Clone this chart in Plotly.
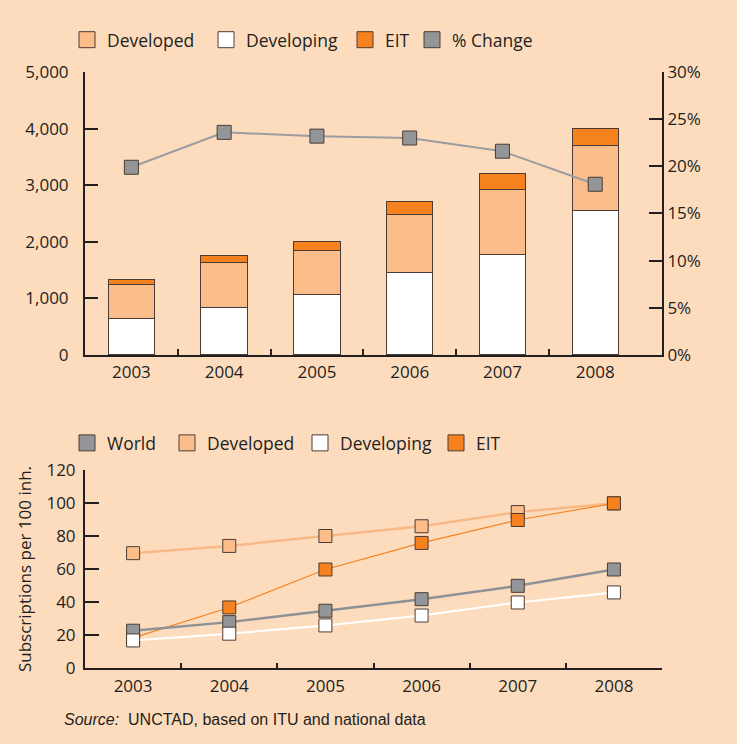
import plotly.graph_objects as go

# ---- data -------------------------------------------------------------
years = ["2003", "2004", "2005", "2006", "2007", "2008"]

# Mobile subscriptions (millions), stacked by group
subs_developing = [645, 847, 1076, 1457, 1781, 2557]
subs_developed = [600, 793, 776, 1017, 1140, 1152]
subs_eit = [90, 117, 152, 235, 289, 300]
pct_change = [0.199, 0.236, 0.232, 0.230, 0.216, 0.181]

# Penetration (subscriptions per 100 inhabitants)
pen_world = [22.6, 27.8, 34.7, 41.7, 49.8, 59.7]
pen_developed = [69.6, 74.0, 80.0, 85.9, 94.5, 99.8]
pen_developing = [16.7, 20.8, 25.8, 31.8, 39.7, 45.8]
pen_eit = [18.3, 36.7, 59.7, 75.8, 89.7, 99.8]

left_ticks = [0, 1000, 2000, 3000, 4000, 5000]
right_ticks = [0, 0.05, 0.10, 0.15, 0.20, 0.25, 0.30]
pen_ticks = [0, 20, 40, 60, 80, 100, 120]

top_legend_items = ["Developed", "Developing", "EIT", "% Change"]
bottom_legend_items = ["World", "Developed", "Developing", "EIT"]

# ---- style ------------------------------------------------------------
BG = "#FDDCBE"
DEVELOPED = "#FBBE8A"
EIT = "#F5821F"
GRAY = "#939598"
DARK = "#231F20"
EDGE = "#4A3C34"
FONT = "Open Sans"
swatch_color = {"Developed": DEVELOPED, "Developing": "white", "EIT": EIT,
                "% Change": GRAY, "World": GRAY}

fig = go.Figure()

# stacked bars
for vals, col in [(subs_developing, "white"), (subs_developed, DEVELOPED), (subs_eit, EIT)]:
    fig.add_trace(go.Bar(x=years, y=vals, width=0.5, showlegend=False, xaxis="x", yaxis="y",
                         marker=dict(color=col, line=dict(color=EDGE, width=1))))

# growth rate on the right-hand axis
fig.add_trace(go.Scatter(x=years, y=pct_change, mode="lines+markers",
                         line=dict(color="#9A9CA0", width=2),
                         marker=dict(symbol="square", size=14, color=GRAY, line=dict(color=EDGE, width=1)),
                         showlegend=False, xaxis="x", yaxis="y2"))

# penetration lines
def pen_line(vals, lc, lw, mc):
    return go.Scatter(x=years, y=vals, mode="lines+markers",
                      line=dict(color=lc, width=lw),
                      marker=dict(symbol="square", size=13, color=mc, line=dict(color=EDGE, width=1)),
                      showlegend=False, xaxis="x2", yaxis="y3")

fig.add_trace(pen_line(pen_developed, "#F9B987", 2.5, DEVELOPED))
fig.add_trace(pen_line(pen_eit, EIT, 1.2, EIT))
fig.add_trace(pen_line(pen_world, "#8E9196", 2.5, GRAY))
fig.add_trace(pen_line(pen_developing, "white", 2, "white"))

# legend swatches: one small legend per entry so each can be placed freely
legend_font = dict(family=FONT, size=17.5, color=DARK)
legend_layouts = {}
top_centers = [91, 230, 369, 436]
bottom_centers = [91, 191, 324, 460]
PLOT_L, PLOT_W = 85, 577

def add_swatches(items, centers, ypos, xa, ya, start):
    for i, (nm, cx) in enumerate(zip(items, centers)):
        lid = "legend" if start + i == 1 else f"legend{start + i}"
        fig.add_trace(go.Scatter(x=[None], y=[None], mode="markers", name=nm, legend=lid,
                                 marker=dict(symbol="square", size=16, color=swatch_color[nm],
                                             line=dict(color=EDGE, width=1)),
                                 xaxis=xa, yaxis=ya))
        legend_layouts[lid] = dict(orientation="h", x=(cx - 24 - PLOT_L) / PLOT_W, xanchor="left",
                                   y=ypos, yanchor="middle", bgcolor="rgba(0,0,0,0)",
                                   font=legend_font, itemclick=False, itemdoubleclick=False)

add_swatches(top_legend_items, top_centers, 1.054, "x3", "y", 1)
add_swatches(bottom_legend_items, bottom_centers, 0.3775, "x2", "y3", 5)

axis_common = dict(showline=True, linecolor=DARK, linewidth=2, showgrid=False, zeroline=False,
                   tickcolor=DARK, tickwidth=2, tickfont=dict(family=FONT, size=17, color=DARK))

top_dom = [0.5252, 1.0]
bot_dom = [0.0, 0.3322]

fig.update_layout(
    width=737, height=744,
    margin=dict(l=85, r=75, t=72, b=76),
    paper_bgcolor=BG, plot_bgcolor=BG,
    barmode="stack",
    font=dict(family=FONT, size=17, color=DARK),
    xaxis=dict(axis_common, domain=[0, 1], anchor="y", type="category", range=[-0.5, 5.72],
               ticks="", ticklabelstandoff=1),
    xaxis3=dict(domain=[0, 1], anchor="y", overlaying="x", type="linear", range=[-0.5, 5.72],
                tickvals=[0.5, 1.5, 2.5, 3.5, 4.5], ticks="inside", ticklen=6, tickwidth=2, tickcolor=DARK,
                showticklabels=False, showgrid=False, zeroline=False, showline=False),
    yaxis=dict(axis_common, domain=top_dom, anchor="x", range=[0, 5000], tickvals=left_ticks,
               tickformat=",d", ticks="inside", ticklen=13, ticklabelstandoff=11),
    yaxis2=dict(axis_common, domain=top_dom, anchor="x", overlaying="y", side="right", range=[0, 0.30],
                tickvals=right_ticks, tickformat=".0%", ticks="inside", ticklen=13, ticklabelstandoff=0),
    xaxis2=dict(axis_common, domain=[0, 1], anchor="y3", type="category", range=[-0.5, 5.5],
                tickson="boundaries", ticks="inside", ticklen=5, ticklabelstandoff=2),
    yaxis3=dict(axis_common, domain=bot_dom, anchor="x2", range=[0, 120], tickvals=pen_ticks,
                ticks="inside", ticklen=14, ticklabelstandoff=4,
                title=dict(text="Subscriptions per 100 inh.", font=dict(family=FONT, size=17, color=DARK),
                           standoff=10)),
    annotations=[dict(text="<i>Source:</i>  UNCTAD, based on ITU and national data",
                      xref="paper", yref="paper", x=-0.039, y=-0.087, xanchor="left", yanchor="middle",
                      showarrow=False, font=dict(family="Liberation Sans", size=16, color=DARK))],
)
fig.update_layout(**legend_layouts)

fig.write_html("out.html")
